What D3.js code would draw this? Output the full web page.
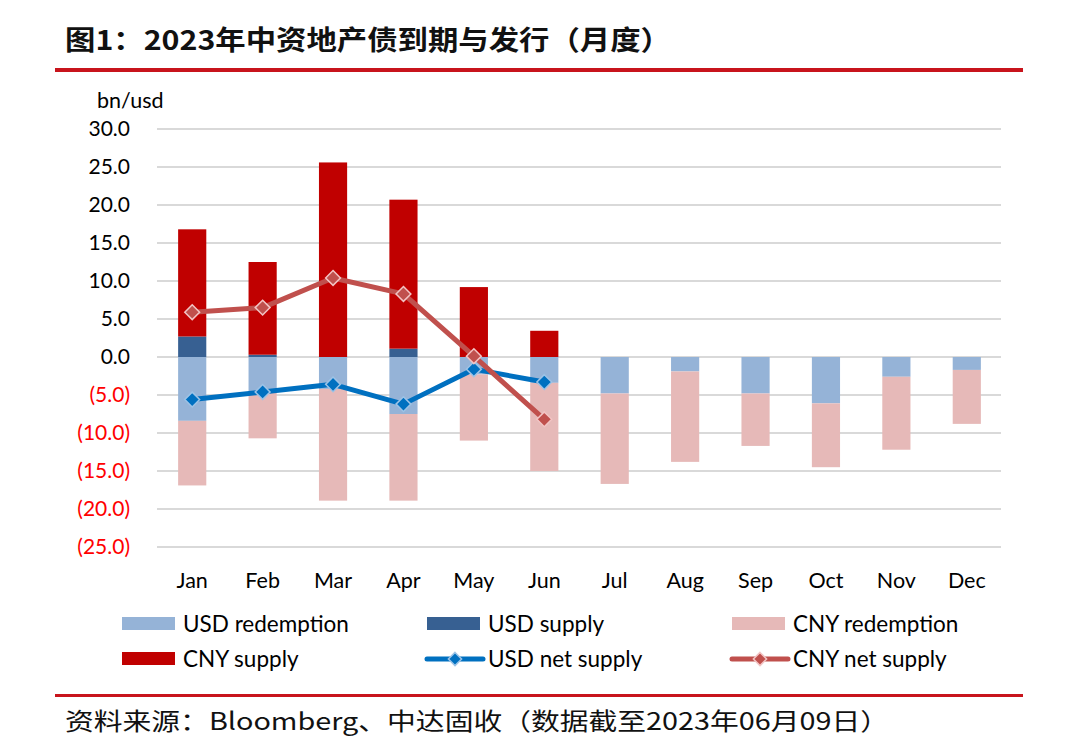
<!DOCTYPE html>
<html>
<head>
<meta charset="utf-8">
<script src="https://cdn.jsdelivr.net/npm/d3@7"></script>
<style>
  html, body { margin: 0; padding: 0; background: #fff; }
  svg { display: block; }
</style>
</head>
<body>
<svg id="chart" width="1080" height="740"></svg>
<script>
const months = ["Jan","Feb","Mar","Apr","May","Jun","Jul","Aug","Sep","Oct","Nov","Dec"];
const usdRedemption = [-8.4, -4.7, -4.2, -7.5, -2.3, -3.4, -4.8, -1.9, -4.8, -6.1, -2.6, -1.7];
const usdSupply     = [2.7, 0.3, 0, 1.1, 0, 0, 0, 0, 0, 0, 0, 0];
const cnyRedemption = [-8.5, -6.0, -14.7, -11.4, -8.7, -11.6, -11.9, -11.9, -6.9, -8.4, -9.6, -7.1];
const cnySupply     = [14.1, 12.2, 25.6, 19.6, 9.2, 3.45, 0, 0, 0, 0, 0, 0];
const netMonths     = ["Jan","Feb","Mar","Apr","May","Jun"];
const usdNet        = [-5.6, -4.6, -3.6, -6.2, -1.6, -3.3];
const cnyNet        = [5.9, 6.5, 10.4, 8.3, 0.1, -8.2];
const yTicks        = [30, 25, 20, 15, 10, 5, 0, -5, -10, -15, -20, -25];

const colors = {
  usdRed: "#95b3d7", usdSup: "#376092", cnyRed: "#e6b9b8", cnySup: "#c00000",
  usdNet: "#0070c0", usdNetMk: "#9dc3e6", cnyNet: "#c0504d", cnyNetMk: "#f2c4c4"
};
const latin = "Lato, 'Open Sans', sans-serif";
const cjk = "'Noto Sans CJK SC', sans-serif";

const svg = d3.select("#chart");

// Title
svg.append("text").attr("x", 65).attr("y", 50)
  .attr("font-family", cjk).attr("font-weight", "bold").attr("font-size", 27)
  .attr("fill", "#111").attr("textLength", 606).attr("lengthAdjust", "spacingAndGlyphs")
  .text("图1：2023年中资地产债到期与发行（月度）");
svg.append("rect").attr("x", 55).attr("y", 68).attr("width", 968).attr("height", 4).attr("fill", "#c8141c");

// Scales
const x = d3.scaleBand().domain(months).range([157, 1002]).paddingInner(0.6).paddingOuter(0.3);
const y = d3.scaleLinear().domain([-25, 30]).range([547, 129]);

// Gridlines
svg.append("g").selectAll("line").data(yTicks).join("line")
  .attr("x1", 157).attr("x2", 1001)
  .attr("y1", d => y(d)).attr("y2", d => y(d))
  .attr("stroke", "#d9d9d9").attr("stroke-width", 2);

// Y axis labels
const fmt = d => d < 0 ? "(" + Math.abs(d).toFixed(1) + ")" : d.toFixed(1);
svg.append("g").selectAll("text").data(yTicks).join("text")
  .attr("x", 130).attr("y", d => y(d) + 7)
  .attr("text-anchor", "end").attr("font-family", latin).attr("font-size", 21)
  .attr("fill", d => d < 0 ? "#ff0000" : "#000")
  .text(fmt);
svg.append("text").attr("x", 97).attr("y", 108)
  .attr("font-family", latin).attr("font-size", 21.5).attr("fill", "#000").text("bn/usd");

// Stacked bars
const keys = ["usdRed", "usdSup", "cnyRed", "cnySup"];
const table = months.map((m, i) => ({
  month: m, usdRed: usdRedemption[i], usdSup: usdSupply[i], cnyRed: cnyRedemption[i], cnySup: cnySupply[i]
}));
const stack = d3.stack().keys(keys).offset(d3.stackOffsetDiverging);
const series = stack(table);
svg.append("g").selectAll("g").data(series).join("g")
  .attr("fill", s => colors[s.key])
  .selectAll("rect").data(s => s).join("rect")
  .attr("x", d => x(d.data.month))
  .attr("width", x.bandwidth())
  .attr("y", d => y(Math.max(d[0], d[1])))
  .attr("height", d => Math.abs(y(d[0]) - y(d[1])));

// Lines
const cx = m => x(m) + x.bandwidth() / 2;
const diamond = d3.symbol().type(d3.symbolDiamond2).size(140);
function drawLine(vals, lineColor, mkStroke) {
  const pts = netMonths.map((m, i) => [cx(m), y(vals[i])]);
  svg.append("path").attr("d", d3.line()(pts))
    .attr("fill", "none").attr("stroke", lineColor).attr("stroke-width", 5)
    .attr("stroke-linejoin", "round");
  svg.append("g").selectAll("path").data(pts).join("path")
    .attr("transform", p => `translate(${p[0]},${p[1]})`)
    .attr("d", diamond).attr("fill", lineColor)
    .attr("stroke", mkStroke).attr("stroke-width", 1.5);
}
drawLine(usdNet, colors.usdNet, colors.usdNetMk);
drawLine(cnyNet, colors.cnyNet, colors.cnyNetMk);

// X axis labels
svg.append("g").selectAll("text").data(months).join("text")
  .attr("x", d => cx(d)).attr("y", 588)
  .attr("text-anchor", "middle").attr("font-family", latin).attr("font-size", 21.5)
  .attr("fill", "#000").text(d => d);

// Legend
const legend = [
  { label: "USD redemption", type: "rect", color: colors.usdRed, col: 0, row: 0 },
  { label: "USD supply", type: "rect", color: colors.usdSup, col: 1, row: 0 },
  { label: "CNY redemption", type: "rect", color: colors.cnyRed, col: 2, row: 0 },
  { label: "CNY supply", type: "rect", color: colors.cnySup, col: 0, row: 1 },
  { label: "USD net supply", type: "line", color: colors.usdNet, mk: colors.usdNetMk, col: 1, row: 1 },
  { label: "CNY net supply", type: "line", color: colors.cnyNet, mk: colors.cnyNetMk, col: 2, row: 1 }
];
const colX = [122, 427, 732];
const rowY = [624, 659];
const lg = svg.append("g");
legend.forEach(it => {
  const x0 = colX[it.col], yc = rowY[it.row];
  if (it.type === "rect") {
    lg.append("rect").attr("x", x0).attr("y", yc - 7).attr("width", 53).attr("height", 13).attr("fill", it.color);
  } else {
    lg.append("line").attr("x1", x0).attr("x2", x0 + 56).attr("y1", yc).attr("y2", yc)
      .attr("stroke", it.color).attr("stroke-width", 5).attr("stroke-linecap", "round");
    lg.append("path").attr("transform", `translate(${x0 + 28},${yc})`)
      .attr("d", d3.symbol().type(d3.symbolDiamond2).size(110)).attr("fill", it.color)
      .attr("stroke", it.mk).attr("stroke-width", 1.5);
  }
  lg.append("text").attr("x", x0 + 61).attr("y", yc + 8)
    .attr("font-family", latin).attr("font-size", 22.5).attr("fill", "#000").text(it.label);
});

// Bottom rule and source
svg.append("rect").attr("x", 55).attr("y", 694).attr("width", 968).attr("height", 3).attr("fill", "#c8141c");
svg.append("text").attr("x", 65).attr("y", 730)
  .attr("font-family", cjk).attr("font-size", 24).attr("fill", "#111")
  .attr("textLength", 824).attr("lengthAdjust", "spacingAndGlyphs")
  .text("资料来源：Bloomberg、中达固收（数据截至2023年06月09日）");
</script>
</body>
</html>
